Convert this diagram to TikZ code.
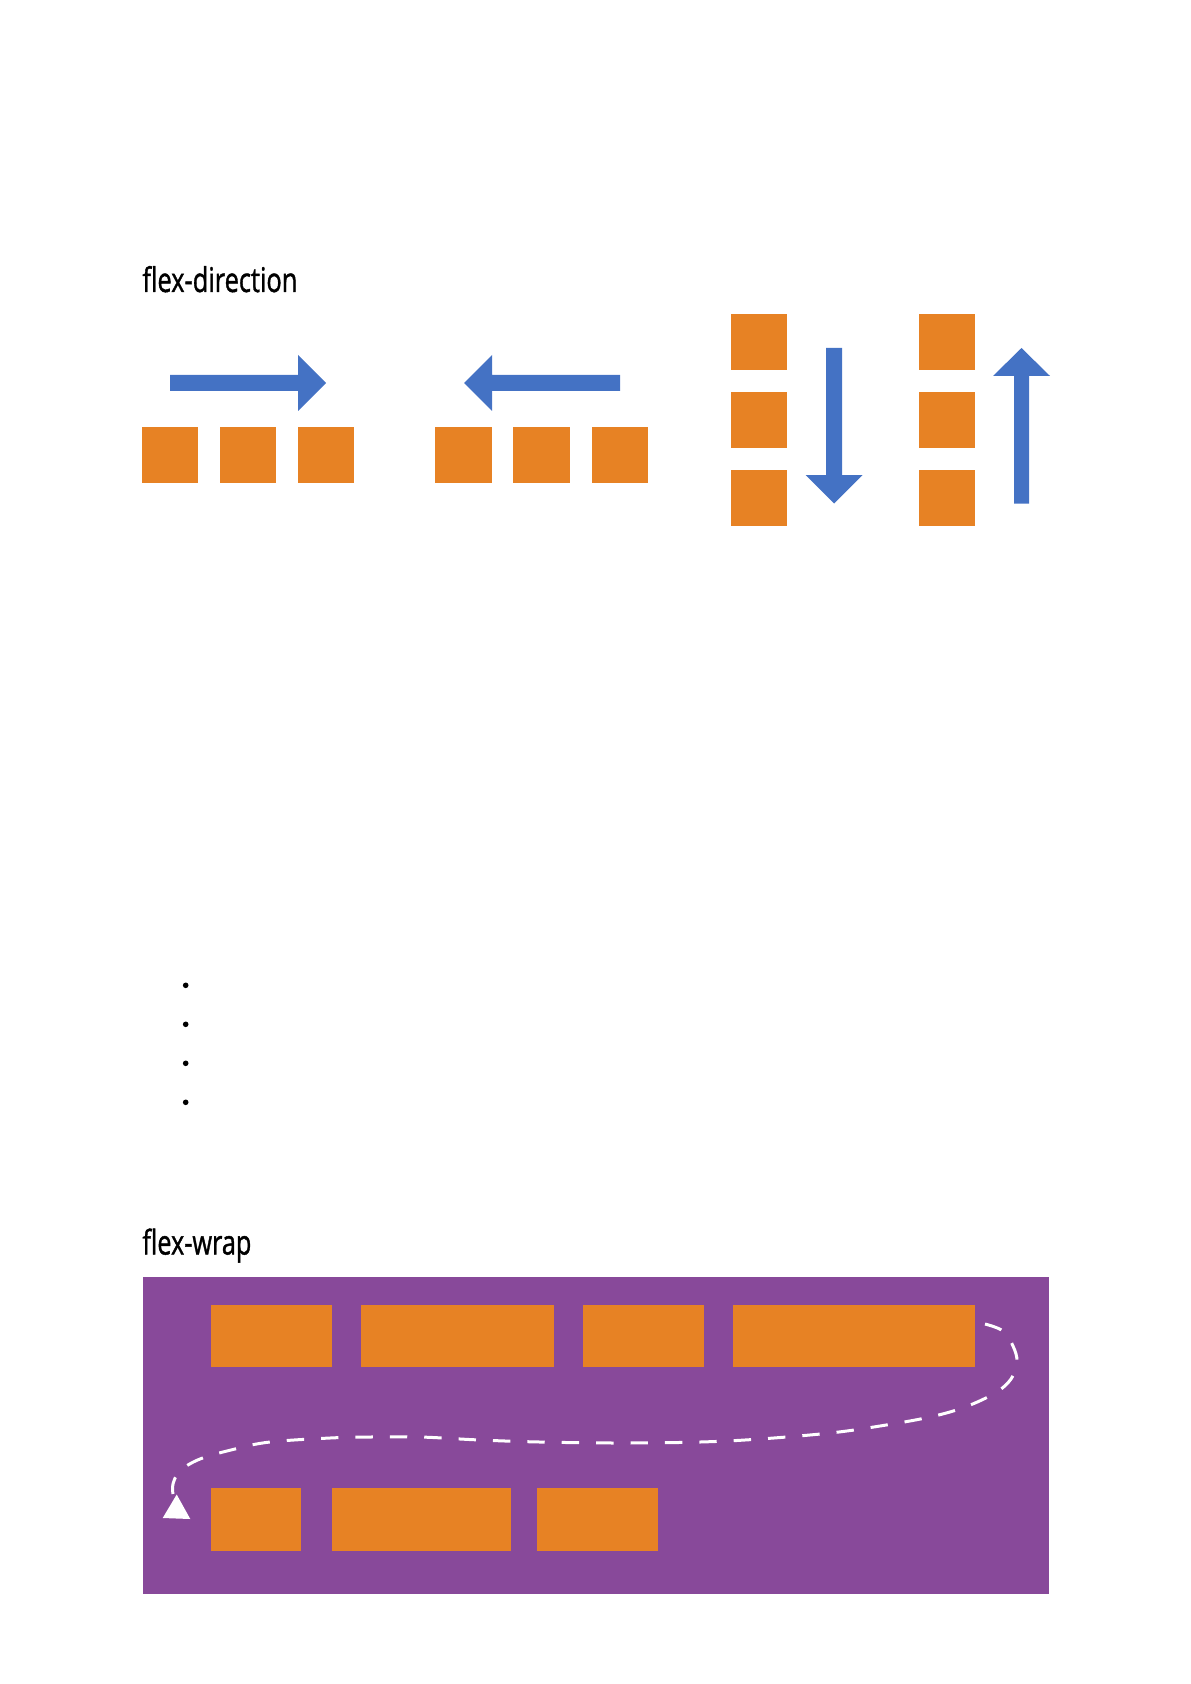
\documentclass[tikz,border=0pt]{standalone}
\usepackage{fontspec}
\setmainfont{Open Sans}
\newfontfamily\titlefont[FakeBold=1.3]{Open Sans}
\usetikzlibrary{fit}
\definecolor{boxorange}{RGB}{231,130,36}
\definecolor{arrowblue}{RGB}{68,114,196}
\definecolor{wrappurple}{RGB}{136,73,154}
\begin{document}
\begin{tikzpicture}[x=0.5pt,y=-0.5pt,
  obox/.style={fill=boxorange, draw=none, inner sep=0pt, outer sep=0pt},
  pbox/.style={fill=wrappurple, draw=none, inner sep=0pt, outer sep=0pt},
  barrow/.style={fill=arrowblue, draw=none},
  titletext/.style={anchor=base west, inner sep=0pt, text=black, font=\titlefont},
  wrapline/.style={draw=white, line width=1.5pt, dash pattern=on 8.7pt off 8.5pt},
  bulletdot/.style={circle, fill=black, draw=none, inner sep=0pt, minimum size=2.8pt}]
\useasboundingbox (0,0) rectangle (1190,1684);

% ---------- flex-direction ----------
\node[titletext] (t1) at (142,292) {\resizebox{77.5pt}{13pt}{flex-direction}};

% row
\node[obox, fit={(142,427) (198,483)}] (ra) {};
\node[obox, fit={(220,427) (276,483)}] (rb) {};
\node[obox, fit={(298,427) (354,483)}] (rc) {};
\fill[barrow] (170,375) -- (298,375) -- (298,355) -- (326,383) -- (298,411) -- (298,391) -- (170,391) -- cycle;

% row-reverse
\node[obox, fit={(435,427) (492,483)}] (la) {};
\node[obox, fit={(513,427) (570,483)}] (lb) {};
\node[obox, fit={(592,427) (648,483)}] (lc) {};
\fill[barrow] (620,375) -- (492,375) -- (492,355) -- (464,383) -- (492,411) -- (492,391) -- (620,391) -- cycle;

% column
\node[obox, fit={(731,314) (787,370)}] (ca) {};
\node[obox, fit={(731,392) (787,448)}] (cb) {};
\node[obox, fit={(731,470) (787,526)}] (cc) {};
\fill[barrow] (826,348) -- (842,348) -- (842,475) -- (862.5,475) -- (834,503.5) -- (805.5,475) -- (826,475) -- cycle;

% column-reverse
\node[obox, fit={(919,314) (975,370)}] (ua) {};
\node[obox, fit={(919,392) (975,448)}] (ub) {};
\node[obox, fit={(919,470) (975,526)}] (uc) {};
\fill[barrow] (1014,503.7) -- (1029,503.7) -- (1029,376) -- (1050,376) -- (1021.5,348) -- (993,376) -- (1014,376) -- cycle;

% ---------- bullets ----------
\node[bulletdot] (b1) at (185.7,985.3) {};
\node[bulletdot] (b2) at (185.7,1024.3) {};
\node[bulletdot] (b3) at (185.7,1063.3) {};
\node[bulletdot] (b4) at (185.7,1102.3) {};

% ---------- flex-wrap ----------
\node[titletext] (t2) at (142,1254.5) {\resizebox{54.5pt}{13pt}{flex-wrap}};
\node[pbox, fit={(143,1277) (1049,1594)}] (wrap) {};

\node[obox, fit={(211,1305) (332,1367)}] (w1) {};
\node[obox, fit={(361,1305) (554,1367)}] (w2) {};
\node[obox, fit={(583,1305) (704,1367)}] (w3) {};
\node[obox, fit={(733,1305) (975,1367)}] (w4) {};
\node[obox, fit={(211,1488) (301,1551)}] (w5) {};
\node[obox, fit={(332,1488) (511,1551)}] (w6) {};
\node[obox, fit={(537,1488) (658,1551)}] (w7) {};

\coordinate (ws) at (985,1324);
\coordinate (we) at (173,1494);
\coordinate (apex) at (176.7,1494.5);
\draw[wrapline] plot[smooth, tension=0.6] coordinates {(ws) (1003,1331) (1013,1346) (1017,1362) (1011,1379) (995,1393) (965,1407) (930,1417) (880,1426) (830,1433) (760,1439) (700,1442) (620,1443) (540,1442) (480,1440) (420,1437) (370,1437) (330,1438) (270,1442) (235,1449) (200,1459) (180,1471) (173,1484) (we)};
\fill[white] (apex) -- (190.3,1519) -- (162.7,1518) -- cycle;
\end{tikzpicture}
\end{document}
